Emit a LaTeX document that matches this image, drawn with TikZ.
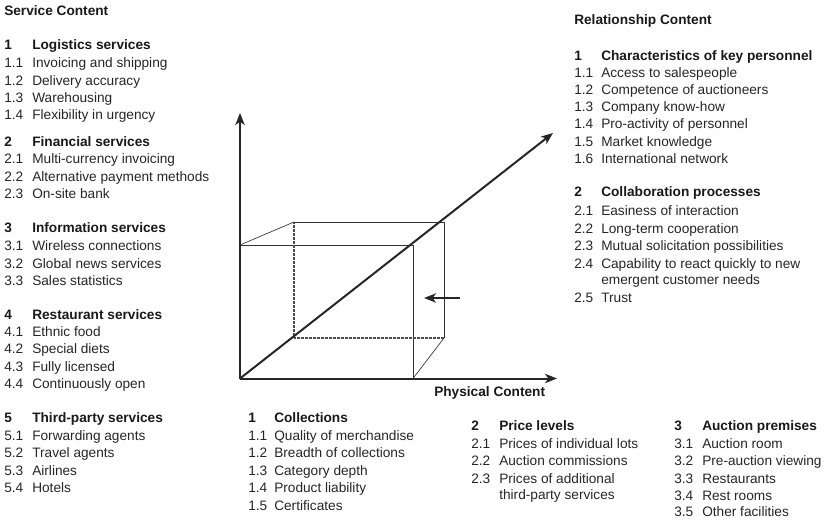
\documentclass[tikz,border=0pt]{standalone}
\usepackage{fontspec}
\setmainfont{Liberation Sans}
\usepackage{tikz}
\usetikzlibrary{arrows}
\usetikzlibrary{arrows.meta}
\tikzstyle{item}=[anchor=base west,inner sep=0pt,text=black!85,font=\fontsize{10.25}{12}\selectfont]
\tikzstyle{head}=[anchor=base west,inner sep=0pt,text=black!90,font=\fontsize{10.25}{12}\selectfont\bfseries]
\tikzstyle{axis}=[-{Stealth[length=9pt,width=7pt,inset=2.5pt]},line width=1.5pt,black!85]
\tikzstyle{edge}=[line width=0.5pt,black!80]
\tikzstyle{hidden}=[line width=1.3pt,black!70,dash pattern=on 0.7pt off 0.3pt]
\newcommand{\listcol}[4]{%
  \foreach \y/\n/\t [count=\k] in {#4}{
    \node[item] (#1n\k) at (#2,\y) {\n};
    \node[item] (#1t\k) at (#3,\y) {\t};
  }
}
\begin{document}
\begin{tikzpicture}[x=0.75pt,y=-0.75pt]
\useasboundingbox (0,0) rectangle (824,520);
%Service Content
\node[head] (service) at (4,15.5) {Service Content};
\node[head] (s1n) at (4,50) {1};
\node[head] (s1h) at (32,50) {Logistics services};
\listcol{sa}{4}{32}{67.5/1.1/Invoicing and shipping,85.5/1.2/Delivery accuracy,102.5/1.3/Warehousing,119.5/1.4/Flexibility in urgency}
\node[head] (s2n) at (4,147) {2};
\node[head] (s2h) at (32,147) {Financial services};
\listcol{sb}{4}{32}{164/2.1/Multi-currency invoicing,181.5/2.2/Alternative payment methods,199/2.3/On-site bank}
\node[head] (s3n) at (4,233) {3};
\node[head] (s3h) at (32,233) {Information services};
\listcol{sc}{4}{32}{250.5/3.1/Wireless connections,268/3.2/Global news services,285.5/3.3/Sales statistics}
\node[head] (s4n) at (4,319) {4};
\node[head] (s4h) at (32,319) {Restaurant services};
\listcol{sd}{4}{32}{336/4.1/Ethnic food,353.5/4.2/Special diets,371/4.3/Fully licensed,388.5/4.4/Continuously open}
\node[head] (s5n) at (4,422) {5};
\node[head] (s5h) at (32,422) {Third-party services};
\listcol{se}{4}{32}{440/5.1/Forwarding agents,457.5/5.2/Travel agents,475/5.3/Airlines,492.5/5.4/Hotels}
%Physical Content
\node[head] (p1n) at (248,422) {1};
\node[head] (p1h) at (274,422) {Collections};
\listcol{pa}{248}{274}{440/1.1/Quality of merchandise,457.5/1.2/Breadth of collections,475/1.3/Category depth,492.5/1.4/Product liability,510/1.5/Certificates}
\node[head] (p2n) at (471,430) {2};
\node[head] (p2h) at (499,430) {Price levels};
\listcol{pb}{471}{499}{448/2.1/Prices of individual lots,465.5/2.2/Auction commissions,483/2.3/Prices of additional}
\node[item] (pb4) at (499,499.5) {third-party services};
\node[head] (p3n) at (674,430) {3};
\node[head] (p3h) at (702,430) {Auction premises};
\listcol{pc}{674}{702}{448/3.1/Auction room,465.5/3.2/Pre-auction viewing,483/3.3/Restaurants,500/3.4/Rest rooms,516.5/3.5/Other facilities}
%Relationship Content
\node[head] (relation) at (574,24.5) {Relationship Content};
\node[head] (r1n) at (574,61) {1};
\node[head] (r1h) at (601,61) {Characteristics of key personnel};
\listcol{ra}{574}{601}{78/1.1/Access to salespeople,95/1.2/Competence of auctioneers,112/1.3/Company know-how,129/1.4/Pro-activity of personnel,146.5/1.5/Market knowledge,164/1.6/International network}
\node[head] (r2n) at (574,197) {2};
\node[head] (r2h) at (601,197) {Collaboration processes};
\listcol{rb}{574}{601}{216/2.1/Easiness of interaction,233.5/2.2/Long-term cooperation,250.5/2.3/Mutual solicitation possibilities,268/2.4/Capability to react quickly to new}
\node[item] (rb5) at (601,285) {emergent customer needs};
\node[item] (rb6n) at (574,302) {2.5};
\node[item] (rb6) at (601,302) {Trust};
\node[head] (physical) at (434,396) {Physical Content};
%Cube corners
\coordinate (o) at (240,378.5);
\coordinate (ytip) at (240,113);
\coordinate (xtip) at (557,378.5);
\coordinate (ztip) at (553,133);
\coordinate (ftl) at (240,245);
\coordinate (ftr) at (413,245);
\coordinate (fbr) at (413,378.5);
\coordinate (btl) at (294,222);
\coordinate (btr) at (444,222);
\coordinate (bbr) at (444,338);
\coordinate (bbl) at (294,338);
\coordinate (from) at (460,298);
\coordinate (to) at (424,298);
%Drawing Edges
\draw[edge] (ftl) -- (ftr);
\draw[edge] (ftr) -- (fbr);
\draw[edge] (ftl) -- (btl);
\draw[edge] (btl) -- (btr);
\draw[edge] (btr) -- (bbr);
\draw[edge] (fbr) -- (bbr);
\draw[hidden] (btl) -- (bbl);
\draw[hidden] (bbl) -- (bbr);
\draw[axis] (o) -- (ytip);
\draw[axis] (o) -- (xtip);
\draw[axis] (o) -- (ztip);
\draw[axis,line width=1.2pt] (from) -- (to);
\end{tikzpicture}
\end{document}
